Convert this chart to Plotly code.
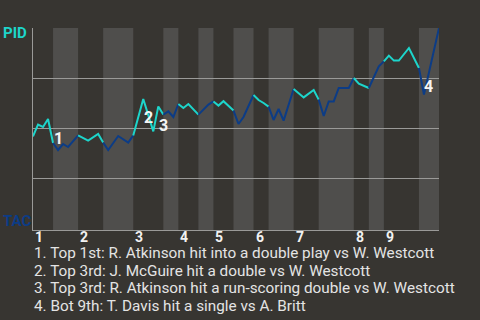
import plotly.graph_objects as go

# ---- data ----
pa = [0, 1, 2, 3, 4, 5, 6, 7, 9, 11, 13, 14, 15, 17, 19, 20, 22, 24, 25, 26,
      27, 28, 29, 30, 31, 33, 35, 36, 37, 38, 40, 41, 42, 44, 45, 46, 47, 48,
      49, 50, 52, 53, 54, 56, 57, 58, 59, 60, 61, 63, 64, 65, 67, 68, 69, 70,
      71, 72, 73, 75, 77, 78, 81]
win_prob = [0.458, 0.517, 0.505, 0.545, 0.425, 0.39, 0.42, 0.405, 0.463, 0.437,
            0.47, 0.427, 0.39, 0.46, 0.427, 0.463, 0.645, 0.483, 0.608, 0.567,
            0.583, 0.555, 0.62, 0.60, 0.62, 0.567, 0.617, 0.633, 0.612, 0.634,
            0.587, 0.52, 0.555, 0.665, 0.64, 0.625, 0.607, 0.54, 0.595, 0.537,
            0.695, 0.672, 0.653, 0.69, 0.642, 0.56, 0.633, 0.633, 0.70, 0.70,
            0.75, 0.722, 0.70, 0.758, 0.808, 0.833, 0.862, 0.837, 0.837, 0.90,
            0.80, 0.667, 1.0]
half_inning_bounds = [0, 4, 9, 14, 20, 26, 29, 33, 36, 40, 44, 47, 52, 57, 64, 67, 70, 77, 81]
inning_labels = ["1", "2", "3", "4", "5", "6", "7", "8", "9"]
event_pa = [4, 22, 25, 78]
event_labels = ["1", "2", "3", "4"]
event_texts = [
    "1. Top 1st: R. Atkinson hit into a double play vs W. Westcott",
    "2. Top 3rd: J. McGuire hit a double vs W. Westcott",
    "3. Top 3rd: R. Atkinson hit a run-scoring double vs W. Westcott",
    "4. Bot 9th: T. Davis hit a single vs A. Britt",
]
team_top = "PID"
team_bottom = "TAC"

# ---- style ----
BG = "#373531"
BAND = "#4f4e4c"
CYAN = "#1dd5cb"
BLUE = "#0c3c86"
GRID = "#9a9a98"
TEXT = "#e4e4e4"
FONT = "Roboto"

fig = go.Figure()

# half-inning line segments
for i in range(len(half_inning_bounds) - 1):
    a, b = half_inning_bounds[i], half_inning_bounds[i + 1]
    xs = [x for x in pa if a <= x <= b]
    ys = [win_prob[pa.index(x)] for x in xs]
    fig.add_trace(go.Scatter(
        x=xs, y=ys, mode="lines",
        line=dict(color=CYAN if i % 2 == 0 else BLUE, width=2),
        hoverinfo="skip", showlegend=False))

shapes = []
for i in range(len(half_inning_bounds) - 1):
    if i % 2 == 1:
        shapes.append(dict(type="rect", xref="x", yref="paper",
                           x0=half_inning_bounds[i], x1=half_inning_bounds[i + 1],
                           y0=0, y1=1, fillcolor=BAND, line=dict(width=0),
                           layer="below"))

annotations = []
# inning numbers
for k, lab in enumerate(inning_labels):
    annotations.append(dict(x=half_inning_bounds[2 * k], y=0, xref="x", yref="paper",
                            text="<b>%s</b>" % lab, showarrow=False,
                            xanchor="left", yanchor="top", xshift=0, yshift=3,
                            font=dict(family=FONT, size=14, color="#f2f2f2")))
# event markers
offsets = [(-1, 5), (-1, -18), (-1, -19), (-2, 8)]
for (p, lab), (dx, dy) in zip(zip(event_pa, event_labels), offsets):
    annotations.append(dict(x=p, y=win_prob[pa.index(p)], xref="x", yref="y",
                            text="<b>%s</b>" % lab, showarrow=False,
                            xanchor="left", yanchor="middle", xshift=dx, yshift=dy,
                            font=dict(family=FONT, size=16, color="#f4f4f4")))
# event descriptions
for j, t in enumerate(event_texts):
    annotations.append(dict(x=0, y=-0.113 - j * 0.088, xref="paper", yref="paper",
                            text=t, showarrow=False, xanchor="left", yanchor="middle",
                            xshift=-1,
                            font=dict(family=FONT, size=15.3, color=TEXT)))
# team labels
annotations.append(dict(x=-32 / 406, y=1, xref="paper", yref="paper", xanchor="left",
                        yanchor="middle", yshift=-5, text="<b>%s</b>" % team_top,
                        showarrow=False, font=dict(family=FONT, size=15, color=CYAN)))
annotations.append(dict(x=-32 / 406, y=0, xref="paper", yref="paper", xanchor="left",
                        yanchor="middle", yshift=9, text="<b>%s</b>" % team_bottom,
                        showarrow=False, font=dict(family=FONT, size=15, color=BLUE)))

fig.update_layout(
    width=480, height=320,
    margin=dict(l=33, r=41, t=28, b=90, pad=0),
    paper_bgcolor=BG, plot_bgcolor=BG,
    shapes=shapes, annotations=annotations,
    xaxis=dict(range=[0, 81], showgrid=False, zeroline=False, showticklabels=False,
               ticks="", showline=True, linecolor=GRID, linewidth=1, fixedrange=True),
    yaxis=dict(range=[-0.01, 1.0], tickvals=[0.25, 0.5, 0.75, 1.0], showgrid=True,
               gridcolor=GRID, gridwidth=1, zeroline=False, showticklabels=False,
               ticks="", showline=True, linecolor=GRID, linewidth=1, fixedrange=True),
    showlegend=False,
)

fig.write_html("out.html", config={"displayModeBar": False})
